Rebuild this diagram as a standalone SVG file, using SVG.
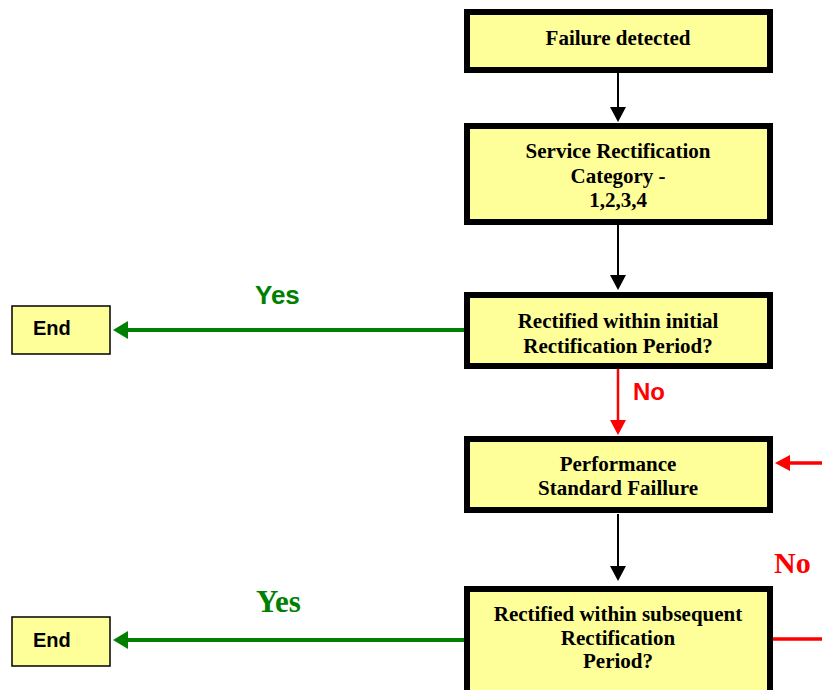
<svg xmlns="http://www.w3.org/2000/svg" width="822" height="690" viewBox="0 0 822 690">
<style>
.box{fill:#FFFF99;stroke:#000;stroke-width:6}
.end{fill:#FFFF99;stroke:#000;stroke-width:1.5}
.bt{font-family:"Liberation Serif","Times New Roman",serif;font-weight:bold;font-size:21px;fill:#000;text-anchor:middle}
.et{font-family:"Liberation Sans",Arial,sans-serif;font-weight:bold;font-size:20px;fill:#000}
.blk{stroke:#000;stroke-width:2;fill:none}
.red{stroke:#FF0000;stroke-width:2.5;fill:none}
.redw{stroke:#FF0000;stroke-width:3.5;fill:none}
.grn{stroke:#008000;stroke-width:4;fill:none}
</style>
<defs>
<marker id="ab" markerUnits="userSpaceOnUse" markerWidth="16" markerHeight="16" refX="1" refY="8" orient="auto"><path d="M0,0 L15,8 L0,16 z" fill="#000"/></marker>
<marker id="ar" markerUnits="userSpaceOnUse" markerWidth="16" markerHeight="16" refX="1" refY="8" orient="auto"><path d="M0,0 L15,8 L0,16 z" fill="#FF0000"/></marker>
<marker id="ag" markerUnits="userSpaceOnUse" markerWidth="16" markerHeight="18" refX="1" refY="9" orient="auto"><path d="M0,0 L15,9 L0,18 z" fill="#008000"/></marker>
</defs>
<g id="connectors">
<line class="blk" x1="618" y1="73" x2="618" y2="108" marker-end="url(#ab)"/>
<line class="blk" x1="618" y1="225" x2="618" y2="276" marker-end="url(#ab)"/>
<line class="red" x1="618" y1="369" x2="618" y2="421" marker-end="url(#ar)"/>
<line class="redw" x1="822" y1="463" x2="789" y2="463" marker-end="url(#ar)"/>
<line class="blk" x1="618" y1="514" x2="618" y2="567" marker-end="url(#ab)"/>
<line class="grn" x1="464" y1="330" x2="127" y2="330" marker-end="url(#ag)"/>
<line class="grn" x1="464" y1="640" x2="127" y2="640" marker-end="url(#ag)"/>
<line class="redw" x1="773" y1="639" x2="822" y2="639"/>
<text x="255" y="304" font-family="'Liberation Sans',Arial,sans-serif" font-weight="bold" font-size="26" fill="#008000">Yes</text>
<text x="633" y="400" font-family="'Liberation Sans',Arial,sans-serif" font-weight="bold" font-size="24" fill="#FF0000">No</text>
<text x="774" y="573" font-family="'Liberation Serif','Times New Roman',serif" font-weight="bold" font-size="30" fill="#FF0000">No</text>
<text x="256" y="612" font-family="'Liberation Serif','Times New Roman',serif" font-weight="bold" font-size="31" fill="#008000">Yes</text>
</g>
<g id="failure-detected">
<rect class="box" x="467" y="12" width="303" height="58"/>
<text class="bt" x="618" y="45">Failure detected</text>
</g>
<g id="service-category">
<rect class="box" x="467" y="126" width="303" height="96"/>
<text class="bt" x="618" y="158">Service Rectification</text>
<text class="bt" x="618" y="183">Category -</text>
<text class="bt" x="618" y="207">1,2,3,4</text>
</g>
<g id="rectified-initial">
<rect class="box" x="467" y="295" width="303" height="71"/>
<text class="bt" x="618" y="328">Rectified within initial</text>
<text class="bt" x="618" y="353">Rectification Period?</text>
</g>
<g id="performance-failure">
<rect class="box" x="467" y="439" width="303" height="71"/>
<text class="bt" x="618" y="471">Performance</text>
<text class="bt" x="618" y="495">Standard Faillure</text>
</g>
<g id="rectified-subsequent">
<rect class="box" x="467" y="589" width="303" height="130"/>
<text class="bt" x="618" y="621">Rectified within subsequent</text>
<text class="bt" x="618" y="645">Rectification</text>
<text class="bt" x="618" y="668">Period?</text>
</g>
<g id="end-1">
<rect class="end" x="12" y="306" width="98" height="48"/>
<text class="et" x="33" y="335">End</text>
</g>
<g id="end-2">
<rect class="end" x="12" y="617" width="98" height="49"/>
<text class="et" x="33" y="647">End</text>
</g>
</svg>
